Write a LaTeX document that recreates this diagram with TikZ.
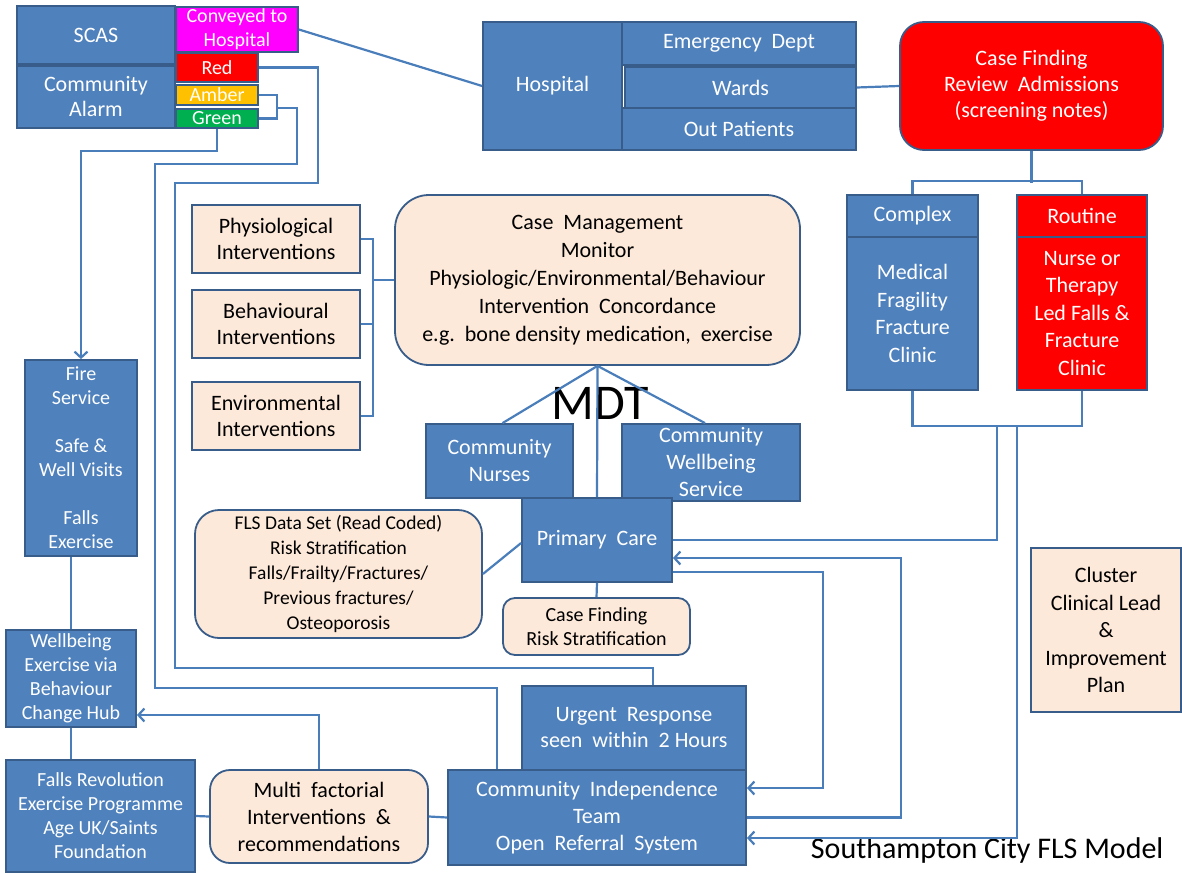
\documentclass[tikz,border=0pt]{standalone}
\usepackage{fontspec}
\setmainfont{Carlito}
\usetikzlibrary{arrows.meta}
\definecolor{ofblue}{HTML}{4F81BD}
\definecolor{ofborder}{HTML}{385D8A}
\definecolor{ofline}{HTML}{4A7EBB}
\definecolor{peach}{HTML}{FDE9D9}
\definecolor{ofred}{HTML}{FF0000}
\definecolor{ofmag}{HTML}{FF00FF}
\definecolor{ofamber}{HTML}{FFC000}
\definecolor{ofgreen}{HTML}{00B050}
\begin{document}
\begin{tikzpicture}[x=1pt,y=-1pt,
  box/.style={draw=ofborder, line width=1.8pt, align=center, inner sep=0pt, font=\fontsize{22}{25}\selectfont},
  bluebox/.style={box, fill=ofblue, text=white},
  redbox/.style={box, fill=ofred, text=white},
  peachbox/.style={box, fill=peach, text=black},
  small/.style={font=\fontsize{20}{24}\selectfont},
  conn/.style={draw=ofline, line width=2.2pt},
  arr/.style={conn, -{Straight Barb[length=6pt,width=13pt,line width=2.2pt]}},
]
\useasboundingbox (0,0) rectangle (1182,872);
\fill[white] (0,0) rectangle (1182,872);

% top-left
\node[bluebox, minimum width=158pt, minimum height=58pt] (scas) at (96,35) {SCAS};
\node[bluebox, minimum width=158pt, minimum height=62pt] (alarm) at (96,97) {Community\\Alarm};
\node[box, small, fill=ofmag, text=white, minimum width=122pt, minimum height=45pt] (conv) at (237,29.5) {Conveyed to\\Hospital};
\node[redbox, small, minimum width=82pt, minimum height=29pt] (red) at (217,67.5) {Red};
\node[box, small, fill=ofamber, text=white, minimum width=82pt, minimum height=20pt] (amber) at (217,95) {Amber};
\node[box, small, fill=ofgreen, text=white, minimum width=82pt, minimum height=19pt] (green) at (217,118.5) {Green};

% hospital
\node[bluebox, minimum width=139pt, minimum height=128pt] (hosp) at (552.5,86) {Hospital};
\node[bluebox, minimum width=234pt, minimum height=43pt] (ed) at (739,43.5) {Emergency~~Dept};
\node[bluebox, minimum width=231pt, minimum height=41pt] (wards) at (740.5,87.5) {Wards};
\node[bluebox, minimum width=234pt, minimum height=42pt] (op) at (739,129) {Out Patients};

\node[redbox, rounded corners=24pt, font=\fontsize{22}{26}\selectfont, minimum width=263pt, minimum height=128pt] (cf) at (1031.5,86) {Case Finding\\Review~~Admissions\\(screening notes)};

\node[bluebox, minimum width=131pt, minimum height=42pt] (complex) at (912.5,216) {Complex};
\node[bluebox, font=\fontsize{22}{27.5}\selectfont, minimum width=131pt, minimum height=153pt] (medfrag) at (912.5,313.5) {Medical\\Fragility\\Fracture\\Clinic};
\node[redbox, minimum width=130pt, minimum height=42pt] (routine) at (1082,216) {Routine};
\node[redbox, font=\fontsize{22}{27.5}\selectfont, minimum width=130pt, minimum height=153pt] (nurse) at (1082,313.5) {Nurse or\\Therapy\\Led Falls \&\\Fracture\\Clinic};

% interventions
\node[peachbox, font=\fontsize{22}{26}\selectfont, minimum width=168pt, minimum height=68pt] (phys) at (276,239) {Physiological\\Interventions};
\node[peachbox, font=\fontsize{22}{26}\selectfont, minimum width=168pt, minimum height=68pt] (behav) at (276,324) {Behavioural\\Interventions};
\node[peachbox, font=\fontsize{22}{26}\selectfont, minimum width=168pt, minimum height=68pt] (env) at (276,416) {Environmental\\Interventions};

\node[peachbox, rounded corners=34pt, font=\fontsize{22}{28}\selectfont, minimum width=405pt, minimum height=170pt] (cm) at (597.5,280) {Case~~Management\\Monitor\\Physiologic/Environmental/Behaviour\\Intervention~~Concordance\\e.g.~~bone density medication,~~exercise};

\node[font=\fontsize{50}{50}\selectfont] (mdt) at (600,403) {MDT};

\node[bluebox, font=\fontsize{22}{27}\selectfont, minimum width=147pt, minimum height=74pt] (cn) at (499.5,461) {Community\\Nurses};
\node[bluebox, minimum width=178pt, minimum height=77pt, font=\fontsize{22}{27}\selectfont] (cws) at (711,462.5) {Community\\Wellbeing\\Service};
\node[bluebox, minimum width=150pt, minimum height=84pt] (pc) at (597,540) {Primary~~Care};

\node[peachbox, rounded corners=24pt, font=\fontsize{19.5}{25}\selectfont, minimum width=287pt, minimum height=128pt] (fls) at (338.5,574) {FLS Data Set (Read Coded)\\Risk Stratification\\Falls/Frailty/Fractures/\\Previous fractures/\\Osteoporosis};
\node[peachbox, small, rounded corners=12pt, minimum width=187pt, minimum height=57pt] (cfrs) at (596.5,626.5) {Case Finding\\Risk Stratification};

% left column
\node[bluebox, small, minimum width=112pt, minimum height=196pt] (fire) at (81,458) {Fire\\Service\\~\\Safe \&\\Well Visits\\~\\Falls\\Exercise};
\node[bluebox, small, minimum width=130pt, minimum height=97pt] (wb) at (71,678.5) {Wellbeing\\Exercise via\\Behaviour\\Change Hub};
\node[bluebox, small, minimum width=189pt, minimum height=112pt] (frev) at (100.5,816) {Falls Revolution\\Exercise Programme\\Age UK/Saints\\Foundation};
\node[peachbox, rounded corners=20pt, font=\fontsize{22}{27}\selectfont, minimum width=218pt, minimum height=93pt] (multi) at (319,816.5) {Multi~~factorial\\Interventions~~\&\\recommendations};

\node[bluebox, minimum width=224pt, minimum height=84pt, font=\fontsize{22}{26}\selectfont] (ur) at (634,728) {Urgent~~Response\\seen~~within~~2 Hours};
\node[bluebox, minimum width=298pt, minimum height=95pt, font=\fontsize{22}{27}\selectfont] (cit) at (597,817.5) {Community~~Independence\\Team\\Open~~Referral~~System};

\node[peachbox, minimum width=150pt, minimum height=164pt, font=\fontsize{22}{27.5}\selectfont] (cluster) at (1106,630) {Cluster\\Clinical Lead\\\&\\Improvement\\Plan};

\node[font=\fontsize{30}{30}\selectfont, anchor=east] (title) at (1167,850) {Southampton City FLS Model};

% connectors
\draw[conn] (conv.east) -- (hosp.west);
\draw[conn] (wards.east) -- (cf.west);
\draw[conn] (cf.south) -- ++(0,32);
\draw[conn] (complex.north) -- ++(0,-13) -| (routine.north);
\draw[conn] (medfrag.south) -- ++(0,35) -| (nurse.south);
\draw[conn] (997,425) |- (pc.east);
\draw[arr] (1017,425) |- ([yshift=-20.5pt]cit.east);
\draw[arr] (cit.east) -| (901,558) -- ([yshift=-18pt]pc.east);
\draw[arr] ([yshift=-32pt]pc.east) -| (823,788) -- ([yshift=29.5pt]cit.east);
\draw[conn] (pc.south) -- (cfrs.north);
\draw[conn] (fls.east) -- ([yshift=-3pt]pc.west);

\draw[conn] (cm.south) -- ([xshift=3pt]cn.north);
\draw[conn] (cm.south) -- (pc.north);
\draw[conn] (cm.south) -- ([xshift=-6pt]cws.north);

\draw[conn] (phys.east) -- ++(12,0) coordinate (bt) -- (bt |- env.east) -- (env.east);
\draw[conn] (behav.east) -- (behav.east -| bt);
\draw[conn] (bt |- cm.west) -- (cm.west);

\draw[arr] (green.south) -- ++(0,22) -| (fire.north);
\draw[conn] (amber.east) -- ++(18,0) |- (green.east);
\draw[conn] (276,108) -- (297,108) -- (297,164) -- (155,164) -- (155,688) -| ([xshift=-100pt]cit.north);
\draw[conn] (red.east) -| (318,183) -- (175,183) -- (175,668) -| ([xshift=19pt]ur.north);

\draw[conn] ([xshift=-10pt]fire.south) -- (wb.north);
\draw[conn] (wb.south) -- ([xshift=-29.5pt]frev.north);
\draw[conn] (frev.east) -- (multi.west);
\draw[conn] (multi.east) -- (cit.west);
\draw[arr] (multi.north) |- ([yshift=-36.5pt]wb.east);
\end{tikzpicture}
\end{document}
